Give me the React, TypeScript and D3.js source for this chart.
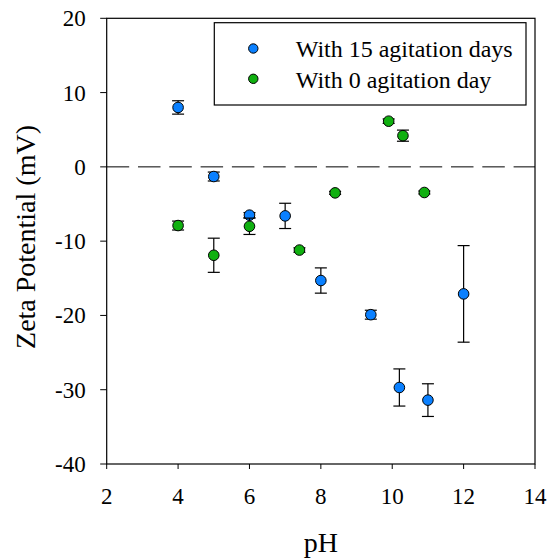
import React from "react";
import * as d3 from "d3";

const WIDTH = 547;
const HEIGHT = 558;

const xTicks = [2, 4, 6, 8, 10, 12, 14];
const yTicks = [20, 10, 0, -10, -20, -30, -40];

const seriesNames = ["With 15 agitation days", "With 0 agitation day"];
const seriesColors = ["#0A80FF", "#10B010"];

// With 15 agitation days
const ph15 = [4, 5, 6, 7, 8, 9.4, 10.2, 11, 12];
const zeta15 = [8.0, -1.3, -6.5, -6.6, -15.3, -19.9, -29.7, -31.4, -17.1];
const err15 = [0.9, 0.6, 0.35, 1.7, 1.7, 0.6, 2.5, 2.2, 6.5];

// With 0 agitation day
const ph0 = [4, 5, 6, 7.4, 8.4, 9.9, 10.3, 10.9];
const zeta0 = [-7.9, -11.9, -8.0, -11.2, -3.5, 6.15, 4.2, -3.45];
const err0 = [0.6, 2.3, 1.1, 0.3, 0.2, 0.3, 0.75, 0.2];

const margin = { left: 106.7, right: 535, top: 18.3, bottom: 464 };

export default function App() {
  const x = d3.scaleLinear().domain([2, 14]).range([margin.left, margin.right]);
  const y = d3.scaleLinear().domain([-40, 20]).range([margin.bottom, margin.top]);

  const series = [
    { ph: ph15, z: zeta15, e: err15, color: seriesColors[0] },
    { ph: ph0, z: zeta0, e: err0, color: seriesColors[1] },
  ];

  const font = "'Liberation Serif', 'Times New Roman', serif";
  const cap = 6;

  return (
    <svg width={WIDTH} height={HEIGHT} style={{ position: "absolute", left: 0, top: 0 }}>
      <rect x={0} y={0} width={WIDTH} height={HEIGHT} fill="#fff" />
      {/* zero dashed line */}
      <line
        x1={x(2)}
        x2={x(14)}
        y1={y(0)}
        y2={y(0)}
        stroke="#000"
        strokeWidth={1}
        strokeDasharray="22.5 8.8"
      />
      {/* plot frame */}
      <rect
        x={margin.left}
        y={margin.top}
        width={margin.right - margin.left}
        height={margin.bottom - margin.top}
        fill="none"
        stroke="#000"
        strokeWidth={1.2}
      />
      {/* y ticks */}
      {yTicks.map((t) => (
        <g key={"y" + t}>
          <line x1={margin.left - 6.5} x2={margin.left} y1={y(t)} y2={y(t)} stroke="#000" strokeWidth={1} />
          <text
            x={margin.left - 21}
            y={y(t)}
            dy="0.35em"
            textAnchor="end"
            fontFamily={font}
            fontSize={23}
            fill="#000"
          >
            {t}
          </text>
        </g>
      ))}
      {/* x ticks */}
      {xTicks.map((t) => (
        <g key={"x" + t}>
          <line x1={x(t)} x2={x(t)} y1={margin.bottom} y2={margin.bottom + 5} stroke="#000" strokeWidth={1} />
          <text
            x={x(t)}
            y={504}
            textAnchor="middle"
            fontFamily={font}
            fontSize={23}
            fill="#000"
          >
            {t}
          </text>
        </g>
      ))}
      {/* axis titles */}
      <text
        x={(margin.left + margin.right) / 2}
        y={551.5}
        textAnchor="middle"
        fontFamily={font}
        fontSize={28}
        fill="#000"
      >
        pH
      </text>
      <text
        transform={`translate(35,${237}) rotate(-90)`}
        textAnchor="middle"
        fontFamily={font}
        fontSize={28}
        fill="#000"
      >
        Zeta Potential (mV)
      </text>
      {/* error bars and points */}
      {series.map((s, si) => (
        <g key={"s" + si}>
          {s.ph.map((p, i) => {
            const cx = x(p);
            const top = y(s.z[i] + s.e[i]);
            const bot = y(s.z[i] - s.e[i]);
            return (
              <g key={i}>
                <line x1={cx} x2={cx} y1={top} y2={bot} stroke="#000" strokeWidth={1.2} />
                <line x1={cx - cap} x2={cx + cap} y1={top} y2={top} stroke="#000" strokeWidth={1.2} />
                <line x1={cx - cap} x2={cx + cap} y1={bot} y2={bot} stroke="#000" strokeWidth={1.2} />
              </g>
            );
          })}
          {s.ph.map((p, i) => (
            <circle key={"c" + i} cx={x(p)} cy={y(s.z[i])} r={5.3} fill={s.color} stroke="#000" strokeWidth={1} />
          ))}
        </g>
      ))}
      {/* legend */}
      <rect x={214.3} y={22.7} width={311.7} height={82.3} fill="#fff" stroke="#000" strokeWidth={1.2} />
      {seriesNames.map((n, i) => (
        <g key={"l" + i}>
          <circle cx={253.3} cy={48.5 + i * 30.3} r={4.7} fill={seriesColors[i]} stroke="#000" strokeWidth={1} />
          <text x={295.7} y={57 + i * 30.5} fontFamily={font} fontSize={24} fill="#000">
            {n}
          </text>
        </g>
      ))}
    </svg>
  );
}
